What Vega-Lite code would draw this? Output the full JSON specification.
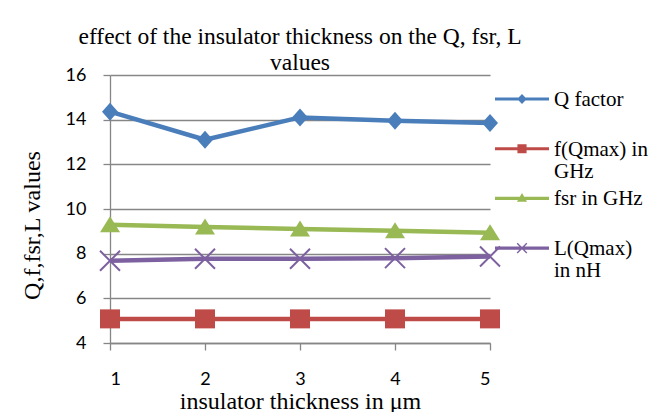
{
  "$schema": "https://vega.github.io/schema/vega-lite/v6.json",
  "width": 380,
  "height": 268,
  "autosize": {"type": "none"},
  "padding": {"left": 110, "top": 75, "right": 172, "bottom": 69},
  "background": "white",
  "title": {
    "text": ["effect of the insulator thickness on the Q, fsr, L", "values"],
    "font": "Liberation Serif",
    "fontSize": 23.5,
    "fontWeight": "normal",
    "color": "black",
    "lineHeight": 26,
    "anchor": "middle",
    "offset": -8
  },
  "data": {
    "values": [
      {"thickness": 1, "series": "Q factor", "value": 14.36},
      {"thickness": 2, "series": "Q factor", "value": 13.1},
      {"thickness": 3, "series": "Q factor", "value": 14.1},
      {"thickness": 4, "series": "Q factor", "value": 13.95},
      {"thickness": 5, "series": "Q factor", "value": 13.85},
      {"thickness": 1, "series": "f(Qmax) in GHz", "value": 5.08},
      {"thickness": 2, "series": "f(Qmax) in GHz", "value": 5.08},
      {"thickness": 3, "series": "f(Qmax) in GHz", "value": 5.08},
      {"thickness": 4, "series": "f(Qmax) in GHz", "value": 5.08},
      {"thickness": 5, "series": "f(Qmax) in GHz", "value": 5.08},
      {"thickness": 1, "series": "fsr in GHz", "value": 9.29},
      {"thickness": 2, "series": "fsr in GHz", "value": 9.19},
      {"thickness": 3, "series": "fsr in GHz", "value": 9.11},
      {"thickness": 4, "series": "fsr in GHz", "value": 9.03},
      {"thickness": 5, "series": "fsr in GHz", "value": 8.94},
      {"thickness": 1, "series": "L(Qmax) in nH", "value": 7.68},
      {"thickness": 2, "series": "L(Qmax) in nH", "value": 7.77},
      {"thickness": 3, "series": "L(Qmax) in nH", "value": 7.77},
      {"thickness": 4, "series": "L(Qmax) in nH", "value": 7.8},
      {"thickness": 5, "series": "L(Qmax) in nH", "value": 7.87}
    ]
  },
  "encoding": {
    "x": {
      "field": "thickness",
      "type": "quantitative",
      "scale": {"domain": [1, 5], "nice": false, "zero": false},
      "axis": {
        "title": "insulator thickness in μm",
        "values": [1, 2, 3, 4, 5],
        "grid": false,
        "tickSize": 7,
        "labelPadding": 20,
        "titlePadding": 1
      }
    },
    "y": {
      "field": "value",
      "type": "quantitative",
      "scale": {"domain": [4, 16], "nice": false, "zero": false},
      "axis": {
        "title": "Q,f,fsr,L values",
        "values": [4, 6, 8, 10, 12, 14, 16],
        "grid": true,
        "tickSize": 7,
        "labelPadding": 17,
        "titlePadding": 21,
        "titleY": 150
      }
    },
    "color": {
      "field": "series",
      "type": "nominal",
      "scale": {
        "domain": ["Q factor", "f(Qmax) in GHz", "fsr in GHz", "L(Qmax) in nH"],
        "range": ["#4a7ebb", "#be4b48", "#98b954", "#7d60a0"]
      },
      "legend": {
        "title": null,
        "orient": "none",
        "legendX": 400,
        "legendY": 12,
        "padding": 0,
        "gridAlign": "all",
        "symbolSize": 576,
        "symbolStrokeWidth": 0,
        "symbolOpacity": 1,
        "rowPadding": 4.7,
        "labelOffset": 20,
        "labelFont": "Liberation Serif",
        "labelFontSize": 21,
        "labelColor": "black",
        "labelLimit": 200,
        "labelBaseline": "alphabetic",
        "labelExpr": "datum.label == 'f(Qmax) in GHz' ? ['f(Qmax) in', 'GHz'] : datum.label == 'L(Qmax) in nH' ? ['L(Qmax)', 'in nH'] : datum.label",
        "encode": {
          "labels": {"update": {"dy": {"value": 7}, "lineHeight": {"value": 22}}},
          "symbols": {
            "update": {
              "fill": {"scale": "color", "field": "value"},
              "stroke": {"value": "transparent"},
              "opacity": {"value": 1},
              "shape": {
                "signal": "datum.value == 'Q factor' ? 'M-2.25,-0.13H2.25V0.13H-2.25Z M0,-0.42L0.4,0L0,0.42L-0.4,0Z' : datum.value == 'f(Qmax) in GHz' ? 'M-2.25,-0.13H2.25V0.13H-2.25Z M-0.38,-0.38H0.38V0.38H-0.38Z' : datum.value == 'fsr in GHz' ? 'M-2.25,-0.13H2.25V0.13H-2.25Z M0,-0.44L0.42,0.28L-0.42,0.28Z' : 'M-2.25,-0.13H2.25V0.13H-2.25Z M-0.36,-0.44L0.44,0.36L0.36,0.44L-0.44,-0.36Z M-0.44,0.36L0.36,-0.44L0.44,-0.36L-0.36,0.44Z'"
              }
            }
          }
        }
      }
    }
  },
  "layer": [
    {
      "mark": {"type": "line", "strokeWidth": 4.5, "strokeJoin": "round", "strokeCap": "butt"},
      "encoding": {}
    },
    {
      "transform": [{"filter": "datum.series == 'Q factor'"}],
      "mark": {"type": "point", "filled": true, "opacity": 1, "size": 400, "strokeWidth": 0,
               "shape": "M0,-0.9L0.8,0L0,0.9L-0.8,0Z"},
      "encoding": {}
    },
    {
      "transform": [{"filter": "datum.series == 'f(Qmax) in GHz'"}],
      "mark": {"type": "point", "filled": true, "opacity": 1, "size": 400, "strokeWidth": 0,
               "shape": "M-1,-0.95H1V0.95H-1Z"},
      "encoding": {}
    },
    {
      "transform": [{"filter": "datum.series == 'fsr in GHz'"}],
      "mark": {"type": "point", "filled": true, "opacity": 1, "size": 400, "strokeWidth": 0,
               "shape": "M0,-0.85L1,0.75L-1,0.75Z"},
      "encoding": {}
    },
    {
      "transform": [{"filter": "datum.series == 'L(Qmax) in nH'"}],
      "mark": {"type": "point", "filled": true, "opacity": 1, "size": 400, "strokeWidth": 0,
               "shape": "M-0.93,-1.07L1.07,0.93L0.93,1.07L-1.07,-0.93Z M-1.07,0.93L0.93,-1.07L1.07,-0.93L-0.93,1.07Z"},
      "encoding": {}
    }
  ],
  "config": {
    "view": {"stroke": null},
    "axis": {
      "domainColor": "#868686",
      "domainWidth": 1.3,
      "tickColor": "#868686",
      "tickWidth": 1.3,
      "gridColor": "#868686",
      "gridWidth": 1.3,
      "gridOpacity": 1,
      "labelFont": "Lato",
      "labelFontSize": 18,
      "labelColor": "black",
      "titleFont": "Liberation Serif",
      "titleFontSize": 24,
      "titleFontWeight": "normal",
      "titleColor": "black"
    }
  }
}
